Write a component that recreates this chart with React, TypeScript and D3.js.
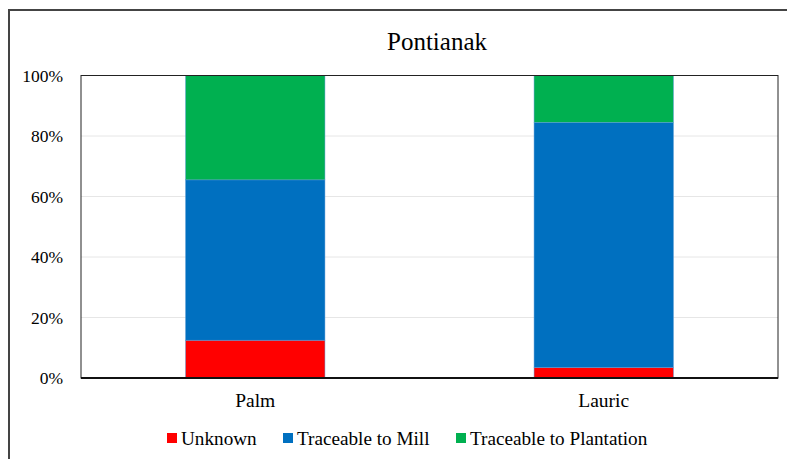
import React from "react";
import * as d3 from "d3";

const categories = ["Palm", "Lauric"];
const seriesNames = ["Unknown", "Traceable to Mill", "Traceable to Plantation"];
const unknownVals = [12.5, 3.5];
const millVals = [53.0, 81.0];
const plantationVals = [34.5, 15.5];
const colors = ["#FF0000", "#0070C0", "#00B050"];
const yTicks = [0, 20, 40, 60, 80, 100];

const W = 787;
const H = 459;
const plot = { left: 81, right: 778, top: 75.5, bottom: 378 };
const FONT = "'Liberation Serif', 'Times New Roman', serif";

export default function App() {
  const x = d3
    .scaleBand<string>()
    .domain(categories)
    .range([plot.left, plot.right])
    .paddingInner(0.6)
    .paddingOuter(0.3);
  const y = d3.scaleLinear().domain([0, 100]).range([plot.bottom, plot.top]);

  const rows = categories.map((c, i) => ({
    cat: c,
    s0: unknownVals[i],
    s1: millVals[i],
    s2: plantationVals[i],
  }));
  const stack = d3.stack<any>().keys(["s0", "s1", "s2"]);
  const stacked = stack(rows);

  const legendItems = [
    { x: 167, name: seriesNames[0], color: colors[0] },
    { x: 283, name: seriesNames[1], color: colors[1] },
    { x: 456, name: seriesNames[2], color: colors[2] },
  ];

  return (
    <svg
      width={W}
      height={H}
      style={{ position: "absolute", left: 0, top: 0, background: "#fff" }}
    >
      <rect x={0} y={0} width={W} height={H} fill="#fff" />
      <rect x={9} y={10} width={W + 20} height={H + 20} fill="none" stroke="#444" strokeWidth={2} />
      <text x={437} y={50} textAnchor="middle" fontFamily={FONT} fontSize={25} fill="#000">
        Pontianak
      </text>
      {yTicks.map((t) =>
        t > 0 && t < 100 ? (
          <line key={"g" + t} x1={plot.left} x2={plot.right} y1={y(t)} y2={y(t)} stroke="#e6e6e6" strokeWidth={1} />
        ) : null
      )}
      {stacked.map((layer, li) =>
        layer.map((d, i) => (
          <rect
            key={li + "-" + i}
            x={x(categories[i])}
            y={y(d[1])}
            width={x.bandwidth()}
            height={y(d[0]) - y(d[1])}
            fill={colors[li]}
            stroke="#5b9bd5"
            strokeWidth={0.5}
          />
        ))
      )}
      <rect
        x={plot.left}
        y={plot.top}
        width={plot.right - plot.left}
        height={plot.bottom - plot.top}
        fill="none"
        stroke="#222"
        strokeWidth={1}
      />
      <line x1={plot.left} x2={plot.right} y1={plot.bottom} y2={plot.bottom} stroke="#111" strokeWidth={2} />
      {yTicks.map((t) => (
        <text key={"t" + t} x={63} y={y(t) + 6} textAnchor="end" fontFamily={FONT} fontSize={17.5} fill="#000">
          {t + "%"}
        </text>
      ))}
      {categories.map((c) => (
        <text
          key={c}
          x={(x(c) as number) + x.bandwidth() / 2}
          y={407}
          textAnchor="middle"
          fontFamily={FONT}
          fontSize={19.5}
          fill="#000"
        >
          {c}
        </text>
      ))}
      {legendItems.map((it) => (
        <g key={it.name}>
          <rect x={it.x} y={433} width={10} height={10} fill={it.color} />
          <text x={it.x + 14} y={444.5} fontFamily={FONT} fontSize={19.2} fill="#000">
            {it.name}
          </text>
        </g>
      ))}
    </svg>
  );
}
